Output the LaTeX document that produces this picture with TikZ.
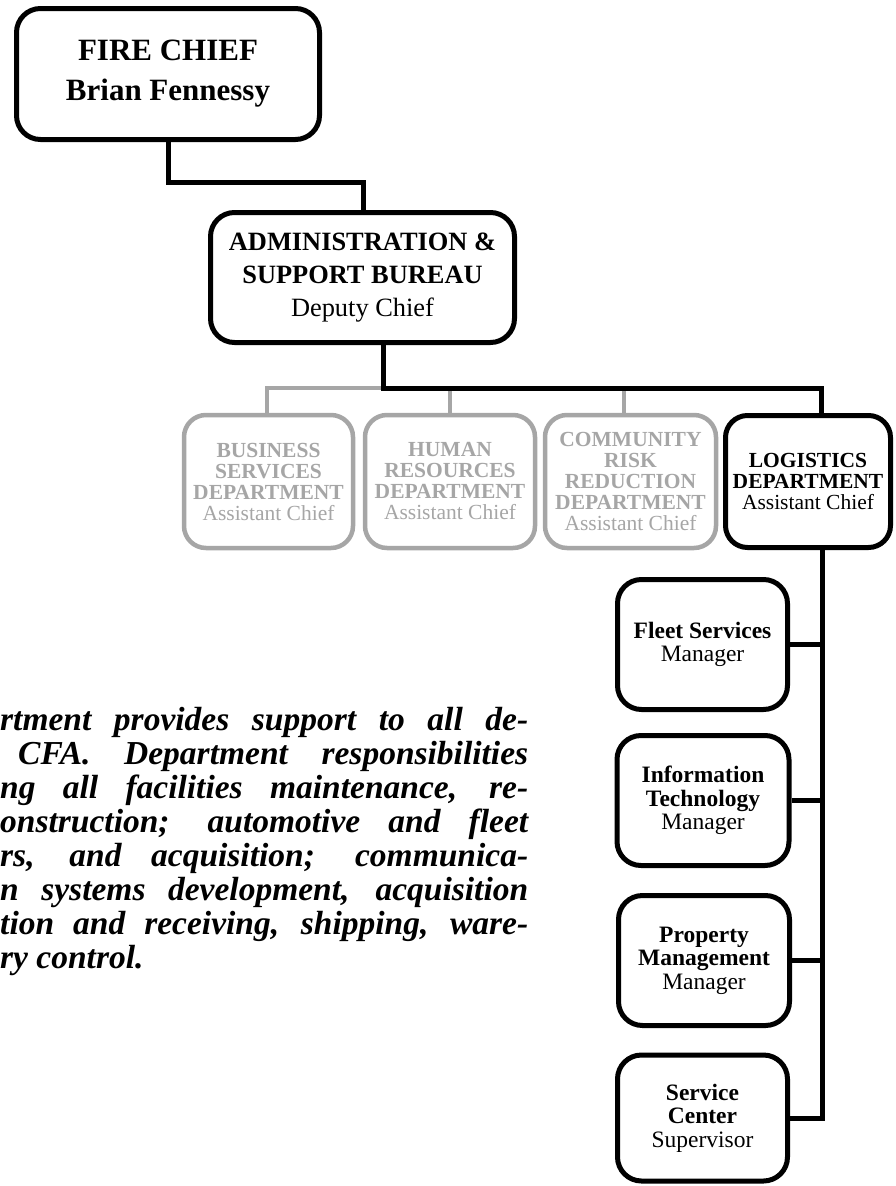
\documentclass[tikz,border=0pt]{standalone}
\usepackage{fontspec}
\setmainfont{Liberation Serif}
\definecolor{lightgr}{RGB}{166,166,166}
\begin{document}
\begin{tikzpicture}[x=1pt,y=-1pt,
  box/.style={draw=black,line width=5pt,rounded corners=24pt,fill=white,align=center,inner sep=0pt},
  gbox/.style={draw=lightgr,line width=4.5pt,rounded corners=22pt,fill=white,align=center,inner sep=0pt,text=lightgr},
  conn/.style={draw=black,line width=5pt},
  gconn/.style={draw=lightgr,line width=4.5pt},
  deptfont/.style={font=\fontsize{21.5}{21}\selectfont},
  subfont/.style={font=\fontsize{23.5}{23.5}\selectfont},
  para/.style={anchor=base west,inner sep=0pt,align=left,
    font=\fontsize{33.5}{34}\selectfont\bfseries\itshape}
]
\useasboundingbox (0,0) rectangle (895,1186);

% top boxes
\node[box,minimum width=303pt,minimum height=131pt,font=\fontsize{31}{40}\selectfont\bfseries] (chief) at (168,74) {FIRE CHIEF\\Brian Fennessy};
\node[box,minimum width=304pt,minimum height=130pt,font=\fontsize{26.4}{33}\selectfont] (admin) at (362.5,277.5)
  {\textbf{ADMINISTRATION \&}\\\textbf{SUPPORT BUREAU}\\Deputy Chief};

% department boxes
\node[gbox,deptfont,minimum width=169pt,minimum height=133pt] (bus) at (268.5,481.5)
  {\textbf{BUSINESS}\\\textbf{SERVICES}\\\textbf{DEPARTMENT}\\Assistant Chief};
\node[gbox,deptfont,minimum width=170pt,minimum height=133pt] (hum) at (450,481.5)
  {\textbf{HUMAN}\\\textbf{RESOURCES}\\\textbf{DEPARTMENT}\\Assistant Chief};
\node[gbox,deptfont,minimum width=171pt,minimum height=133pt] (com) at (630.5,481.5)
  {\textbf{COMMUNITY}\\\textbf{RISK}\\\textbf{REDUCTION}\\\textbf{DEPARTMENT}\\Assistant Chief};
\node[box,deptfont,rounded corners=22pt,minimum width=165pt,minimum height=132pt] (log) at (808,481.5)
  {\textbf{LOGISTICS}\\\textbf{DEPARTMENT}\\Assistant Chief};

% sub boxes
\node[box,subfont,minimum width=170pt,minimum height=130pt] (fleet) at (702.5,644.5)
  {\textbf{Fleet Services}\\Manager};
\node[box,subfont,minimum width=172pt,minimum height=130pt] (it) at (703,800.5)
  {\textbf{Information}\\\textbf{Technology}\\Manager};
\node[box,subfont,minimum width=171pt,minimum height=130pt] (prop) at (704,960.5)
  {\textbf{Property}\\\textbf{Management}\\Manager};
\node[box,subfont,minimum width=170pt,minimum height=126pt] (svc) at (702.5,1118)
  {\textbf{Service}\\\textbf{Center}\\Supervisor};

% junction coordinates
\coordinate (j1) at (168,182);
\coordinate (j2) at (363,182);
\coordinate (j3) at (383,388);
\coordinate (j4) at (821,388);
\coordinate (g1) at (267,388);
\coordinate (g2) at (450,388);
\coordinate (g3) at (624,388);
\coordinate (v) at (822,600);

% connectors
\draw[conn] (chief.south -| j1) -- (j1) -- (j2) -- (admin.north -| j2);
\draw[gconn] (bus.north -| g1) -- (g1) -- (g3) -- (com.north -| g3);
\draw[gconn] (g2) -- (hum.north -| g2);
\draw[conn] (admin.south -| j3) -- (j3) -- (j4) -- (log.north -| j4);
\draw[conn] (log.south -| v) -- (v |- svc.east) -- (svc.east);
\draw[conn] (fleet.east) -- (fleet.east -| v);
\draw[conn] (it.east) -- (it.east -| v);
\draw[conn] (prop.east) -- (prop.east -| v);

% paragraph (clipped at the left edge); base anchor = last line
\node[para] (txt) at (0,968) {%
\smash{\makebox[528pt][s]{rtment provides support to all de-}}\\
\smash{\hspace*{18pt}\makebox[510pt][s]{CFA. Department responsibilities}}\\
\smash{\makebox[528pt][s]{ng all facilities maintenance, re-}}\\
\smash{\makebox[528pt][s]{onstruction; automotive and fleet}}\\
\smash{\makebox[528pt][s]{rs, and acquisition; communica-}}\\
\smash{\makebox[528pt][s]{n systems development, acquisition}}\\
\smash{\makebox[528pt][s]{tion and receiving, shipping, ware-}}\\
\smash{ry control.}};
\end{tikzpicture}
\end{document}
